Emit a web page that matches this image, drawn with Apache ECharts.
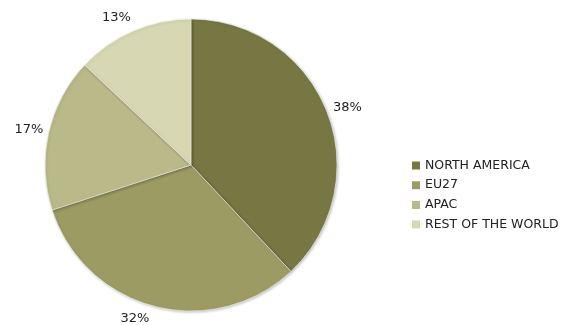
<!DOCTYPE html>
<html><head><meta charset="utf-8">
<script src="https://cdn.jsdelivr.net/npm/echarts@6/dist/echarts.min.js"></script>
<style>html,body{margin:0;padding:0;background:#fff;}#c{width:565px;height:325px;}</style>
</head><body><div id="c"></div>
<script>
const categories = ['NORTH AMERICA', 'EU27', 'APAC', 'REST OF THE WORLD'];
const values = [38, 32, 17, 13];
const colors = ['#767743', '#9b9b63', '#b9b98a', '#d7d7b3'];

// small label nudges (style only) to mimic the original label placement
const labelNudge = [[3, 3], [-15, -6], [-1, 1], [-9, 4]];

const chart = echarts.init(document.getElementById('c'));
const pieData = categories.map((n, i) => ({ name: n, value: values[i] }));
chart.setOption({
  animation: false,
  color: colors,
  legend: {
    orient: 'vertical',
    left: 405, top: 154,
    itemWidth: 10, itemHeight: 10, itemGap: 6.7,
    icon: 'rect',
    textStyle: { fontFamily: 'DejaVu Sans', fontSize: 12.5, color: '#222', padding: [0,0,0,-1] },
    data: categories
  },
  series: [{
    type: 'pie',
    center: [191, 165],
    radius: 146,
    startAngle: 90,
    clockwise: true,
    data: pieData,
    label: { show: false },
    labelLine: { show: false },
    itemStyle: { borderColor: '#fff', borderWidth: 0.5, shadowColor: 'rgba(0,0,0,0.25)', shadowBlur: 3, shadowOffsetX: 1, shadowOffsetY: 1 },
    emphasis: { disabled: true }
  }, {
    type: 'pie',
    silent: true,
    center: [191, 165],
    radius: [156, 168],
    startAngle: 90,
    clockwise: true,
    data: pieData.map((d, i) => ({ name: d.name, value: d.value, label: { offset: labelNudge[i] } })),
    itemStyle: { color: 'rgba(0,0,0,0)' },
    label: { show: true, position: 'inside', rotate: 0, formatter: '{d}%', fontFamily: 'DejaVu Sans', fontSize: 13, color: '#222', overflow: 'none' },
    labelLine: { show: false },
    emphasis: { disabled: true }
  }]
});
</script></body></html>
